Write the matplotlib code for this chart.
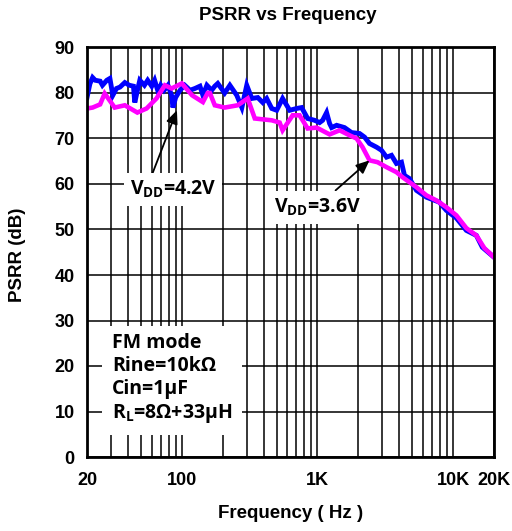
import matplotlib
matplotlib.use("Agg")
import matplotlib.pyplot as plt
from matplotlib.ticker import FixedLocator, NullFormatter

plt.rcParams['font.family'] = ['Liberation Sans', 'DejaVu Sans']
plt.rcParams['mathtext.fontset'] = 'custom'
plt.rcParams['mathtext.rm'] = 'Open Sans:bold'
plt.rcParams['mathtext.bf'] = 'Open Sans:bold'
plt.rcParams['mathtext.it'] = 'Open Sans:bold'

# PSRR measurement, VDD = 4.2 V
freq_42 = [20, 21, 22, 23, 25, 26, 28, 29.5, 31, 33, 35, 38, 41, 44, 45, 47, 49, 53, 56,
           60, 63, 67, 70, 74, 79, 84, 86, 90, 97, 105, 115, 125, 136, 143, 153, 166, 175,
           184, 207, 226, 254, 277, 301, 328, 363, 395, 422, 460, 500, 553, 624, 702, 764,
           846, 952, 1036, 1091, 1167, 1228, 1271, 1384, 1582, 1783, 2042, 2223, 2418, 2723,
           2965, 3229, 3511, 3820, 4159, 4375, 4763, 5363, 6353, 7910, 8912, 10566, 12510,
           14820, 16400, 20000]
psrr_42 = [79.0, 82.0, 83.4, 82.8, 82.6, 81.7, 82.8, 83.2, 79.5, 81.0, 81.3, 82.3, 81.7, 81.5,
           77.9, 80.5, 82.8, 81.7, 82.8, 81.5, 82.8, 80.2, 81.7, 80.6, 81.7, 79.5, 76.8, 79.0,
           80.6, 81.7, 80.6, 81.0, 81.5, 79.5, 81.7, 80.6, 81.5, 82.1, 80.0, 81.7, 79.5, 76.8,
           81.7, 78.8, 79.0, 77.9, 78.8, 76.6, 76.2, 78.8, 76.2, 76.6, 76.8, 74.4, 74.0, 73.5,
           74.0, 75.7, 73.3, 72.4, 72.9, 72.4, 71.3, 71.1, 70.3, 68.9, 68.1, 67.4, 65.9, 66.3,
           64.5, 64.8, 61.9, 61.2, 58.6, 57.1, 56.0, 54.2, 52.5, 49.8, 48.7, 46.1, 43.9]

# PSRR measurement, VDD = 3.6 V
freq_36 = [20, 22, 25, 27, 32, 38, 47, 55, 65, 75, 84, 100, 119, 143, 155, 161, 175, 207,
           258, 306, 345, 460, 526, 553, 656, 738, 846, 984, 1228, 1455, 1723, 1941, 2148,
           2418, 2769, 3229, 3820, 4229, 4763, 5363, 6353, 7520, 8912, 10566, 12510, 14820,
           16980, 20000]
psrr_36 = [76.6, 76.8, 77.5, 79.9, 76.8, 77.3, 75.7, 76.6, 78.8, 81.7, 81.0, 82.1, 79.5, 78.0,
           80.0, 80.0, 77.3, 76.8, 77.3, 78.8, 74.4, 74.0, 73.5, 71.8, 75.1, 75.1, 72.2, 72.4,
           70.9, 71.8, 70.7, 70.0, 68.1, 65.2, 64.8, 63.7, 62.6, 61.5, 60.4, 59.3, 57.5, 56.4,
           54.9, 53.1, 50.3, 48.7, 45.9, 43.9]

x_ticks = [20, 100, 1000, 10000, 20000]
x_tick_labels = ['20', '100', '1K', '10K', '20K']
y_ticks = list(range(0, 91, 10))

W, H = 512, 531
fig = plt.figure(figsize=(W / 100, H / 100), dpi=100)
ax = fig.add_axes([87 / W, 1 - 457 / H, (494 - 87) / W, (457 - 47.5) / H])

ax.set_xscale('log')
ax.set_xlim(20, 20000)
ax.set_ylim(0, 90)

minor = [m * 10 ** e for e in range(1, 5) for m in range(1, 10)]
minor = [v for v in minor if 20 < v < 20000 and v not in x_ticks]
ax.xaxis.set_major_locator(FixedLocator(x_ticks))
ax.xaxis.set_minor_locator(FixedLocator(minor))
ax.xaxis.set_minor_formatter(NullFormatter())
ax.set_xticklabels(x_tick_labels)
ax.set_yticks(y_ticks)

ax.grid(True, which='both', color='black', linewidth=1.1, zorder=0)
ax.tick_params(which='both', length=0, labelsize=13)
ax.tick_params(axis='x', pad=11)
ax.tick_params(axis='y', pad=9)
for lbl in ax.get_xticklabels() + ax.get_yticklabels():
    lbl.set_fontweight('bold')
for sp in ax.spines.values():
    sp.set_linewidth(2.0)
    sp.set_zorder(5)

ax.plot(freq_42, psrr_42, color='#0000FF', linewidth=3.5, zorder=3, solid_joinstyle='miter')
ax.plot(freq_36, psrr_36, color='#FF00FF', linewidth=3.3, zorder=4, solid_joinstyle='miter')

fig.text(288 / W, 1 - 15 / H, 'PSRR vs Frequency', fontsize=13.5, fontweight='bold',
         ha='center', va='center')
fig.text(291 / W, 1 - 514 / H, 'Frequency ( Hz )', fontsize=13.5, fontweight='bold',
         ha='center', va='center')
fig.text(18 / W, 1 - 255 / H, 'PSRR (dB)', fontsize=13.5, fontweight='bold',
         ha='center', va='center', rotation=90)

ann_font = dict(fontsize=14, family=['Open Sans', 'DejaVu Sans'], fontweight='bold')
arrow = dict(arrowstyle='-|>,head_length=0.8,head_width=0.35', color='black', lw=1.3,
             shrinkA=0, shrinkB=0)

ax.annotate('', xy=(92, 76.2), xytext=(60, 61.9), arrowprops=arrow, zorder=6)
ax.text(86, 58.8, r'V$_{\mathrm{DD}}$=4.2V', ha='center', va='center', zorder=7,
        bbox=dict(boxstyle='square,pad=0.3', facecolor='white', edgecolor='none'),
        **ann_font)

ax.annotate('', xy=(2418, 65.2), xytext=(1359, 58.6), arrowprops=arrow, zorder=6)
ax.text(1002, 54.9, r'V$_{\mathrm{DD}}$=3.6V', ha='center', va='center', zorder=7,
        bbox=dict(boxstyle='square,pad=0.3', facecolor='white', edgecolor='none'),
        **ann_font)

ax.text(30.5, 27.2, 'FM mode\nRine=10kΩ\nCin=1μF\n' + r'R$_{\mathrm{L}}$=8Ω+33μH',
        ha='left', va='top', linespacing=1.2, zorder=7,
        bbox=dict(boxstyle='square,pad=0.5', facecolor='white', edgecolor='none'),
        **ann_font)

fig.savefig('out.png', dpi=100)
